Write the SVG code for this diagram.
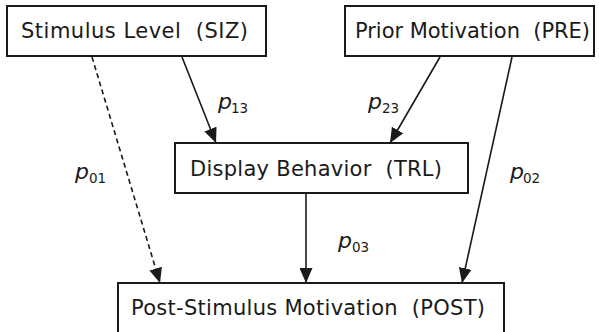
<svg xmlns="http://www.w3.org/2000/svg" width="599" height="332" viewBox="0 0 599 332">
<style>
.box{fill:#fff;stroke:#1a1a1a;stroke-width:2}
.lbl{font-family:"DejaVu Sans",Verdana,sans-serif;font-size:21px;fill:#1a1a1a;white-space:pre}
.p{font-family:"DejaVu Sans",Verdana,sans-serif;font-size:22px;font-style:italic;fill:#1a1a1a}
.s{font-family:"DejaVu Sans",Verdana,sans-serif;font-size:13.5px;font-style:normal;fill:#1a1a1a}
.ln{stroke:#1a1a1a;stroke-width:1.6;fill:none}
.dash{stroke-dasharray:5,3.5}
</style>
<defs>
<marker id="ah" markerUnits="userSpaceOnUse" markerWidth="16" markerHeight="13" refX="15" refY="6.5" orient="auto">
<path d="M0,0 L15,6.5 L0,13 z" fill="#1a1a1a"/>
</marker>
</defs>
<g id="connectors">
<line class="ln dash" x1="92" y1="57" x2="160" y2="283" marker-end="url(#ah)"/>
<line class="ln" x1="182" y1="57" x2="216" y2="143" marker-end="url(#ah)"/>
<line class="ln" x1="440" y1="57" x2="390" y2="143" marker-end="url(#ah)"/>
<line class="ln" x1="512" y1="57" x2="462" y2="283" marker-end="url(#ah)"/>
<line class="ln" x1="306" y1="193" x2="306" y2="283" marker-end="url(#ah)"/>
<text class="p" x="218" y="109">p<tspan class="s" x="231" y="113">13</tspan></text>
<text class="p" x="368" y="109">p<tspan class="s" x="382" y="113">23</tspan></text>
<text class="p" x="75" y="179">p<tspan class="s" x="89" y="183">01</tspan></text>
<text class="p" x="510" y="179">p<tspan class="s" x="523" y="183">02</tspan></text>
<text class="p" x="338" y="248">p<tspan class="s" x="352" y="252">03</tspan></text>
</g>
<g id="siz">
<rect class="box" x="7" y="6" width="259" height="50"/>
<text class="lbl" x="21" y="38" textLength="227" xml:space="preserve">Stimulus Level  (SIZ)</text>
</g>
<g id="pre">
<rect class="box" x="345" y="6" width="249" height="50"/>
<text class="lbl" x="355" y="38" textLength="235" xml:space="preserve">Prior Motivation  (PRE)</text>
</g>
<g id="trl">
<rect class="box" x="175" y="143" width="293" height="50"/>
<text class="lbl" x="190" y="176" textLength="252" xml:space="preserve">Display Behavior  (TRL)</text>
</g>
<g id="post">
<rect class="box" x="118" y="283" width="386" height="70"/>
<text class="lbl" x="131" y="315" textLength="354" xml:space="preserve">Post-Stimulus Motivation  (POST)</text>
</g>
</svg>
